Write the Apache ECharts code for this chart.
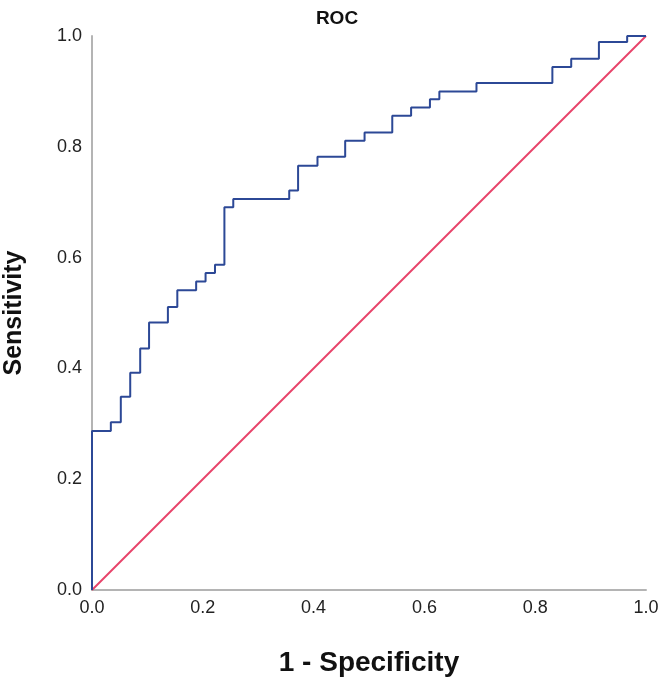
<!DOCTYPE html>
<html><head><meta charset="utf-8">
<script src="https://cdn.jsdelivr.net/npm/echarts@6/dist/echarts.min.js"></script>
<style>html,body{margin:0;padding:0;background:#fff}#c{width:661px;height:680px}</style>
</head><body><div id="c"></div>
<script>
// ROC curve corner points: at fpr[i] the curve jumps up to tpr[i]
const fpr = [0, 0, 0.034, 0.052, 0.069, 0.087, 0.103, 0.137, 0.154, 0.188, 0.205, 0.222, 0.239, 0.255, 0.356, 0.372, 0.407, 0.457, 0.492, 0.542, 0.576, 0.610, 0.627, 0.694, 0.831, 0.865, 0.915, 0.966, 1.0];
const tpr = [0, 0.287, 0.303, 0.349, 0.392, 0.436, 0.483, 0.511, 0.541, 0.557, 0.572, 0.587, 0.691, 0.706, 0.721, 0.766, 0.782, 0.811, 0.826, 0.856, 0.871, 0.886, 0.900, 0.915, 0.944, 0.959, 0.989, 1.0, 1.0];
const refX = [0, 1];
const refY = [0, 1];
const ticks = ['0.0', '0.2', '0.4', '0.6', '0.8', '1.0'];

const chart = echarts.init(document.getElementById('c'), null, {renderer: 'canvas'});
const font = '"Liberation Sans", Arial, sans-serif';
chart.setOption({
  animation: false,
  title: {text: 'ROC', left: 332, top: 4, textAlign: 'center',
    textStyle: {fontFamily: font, fontWeight: 'bold', fontSize: 19, color: '#111'}},
  grid: {left: 92, right: 15, top: 36, bottom: 90, outerBoundsMode: 'none', containLabel: false},
  xAxis: {type: 'value', min: 0, max: 1, interval: 0.2,
    name: '1 - Specificity', nameLocation: 'middle', nameGap: 59,
    nameTextStyle: {fontFamily: font, fontWeight: 'bold', fontSize: 28, color: '#111'},
    axisLine: {show: true, onZero: false, lineStyle: {color: '#b4b4b4', width: 2}},
    axisTick: {show: false}, splitLine: {show: false},
    axisLabel: {fontFamily: font, fontSize: 18, color: '#222', margin: 9,
      formatter: v => ticks[Math.round(v * 5)]}},
  yAxis: {type: 'value', min: 0, max: 1, interval: 0.2,
    name: 'Sensitivity', nameLocation: 'middle', nameGap: 65, nameRotate: 90,
    nameTextStyle: {fontFamily: font, fontWeight: 'bold', fontSize: 25, color: '#111'},
    axisLine: {show: true, onZero: false, lineStyle: {color: '#b4b4b4', width: 2}},
    axisTick: {show: false}, splitLine: {show: false},
    axisLabel: {fontFamily: font, fontSize: 18, color: '#222', margin: 10,
      formatter: v => ticks[Math.round(v * 5)]}},
  series: [
    {type: 'line', data: refX.map((x, i) => [x, refY[i]]), symbol: 'none',
      lineStyle: {color: '#e8436a', width: 2}, z: 2},
    {type: 'line', step: 'end', data: fpr.map((x, i) => [x, tpr[i]]), symbol: 'none',
      lineStyle: {color: '#2c4896', width: 2}, z: 3}
  ]
});
</script></body></html>
